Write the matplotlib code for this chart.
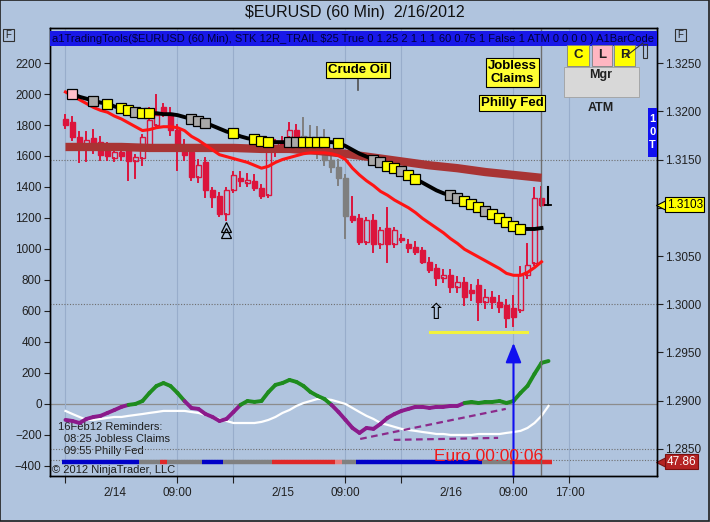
import numpy as np
import matplotlib

matplotlib.use("Agg")
import matplotlib.pyplot as plt
import matplotlib.transforms as mtransforms
from matplotlib.collections import LineCollection
from matplotlib.patches import Rectangle

plt.rcParams['font.family'] = ['Liberation Sans', 'DejaVu Sans']

# --- data: 60 min bars, x = hours since 2/14 00:00 (first bar 2/13 17:00)
bar_hours = np.arange(-7, 62)

opens = [1.3192, 1.3189, 1.3173, 1.3165, 1.3172, 1.3168, 1.3162, 1.3152, 1.3158, 1.3163,
         1.3148, 1.3152, 1.3162, 1.3186, 1.3204, 1.3198, 1.3181, 1.3160, 1.3158, 1.3132,
         1.3147, 1.3118, 1.3112, 1.3094, 1.3118, 1.3131, 1.3126, 1.3128, 1.3120, 1.3113,
         1.3162, 1.3169, 1.3173, 1.3181, 1.3174, 1.3172, 1.3165, 1.3160, 1.3150, 1.3142,
         1.3131, 1.3091, 1.3089, 1.3065, 1.3087, 1.3062, 1.3079, 1.3062, 1.3069, 1.3062,
         1.3059, 1.3056, 1.3044, 1.3038, 1.3027, 1.3030, 1.3018, 1.3023, 1.3015, 1.3020,
         1.3002, 1.3008, 1.3002, 1.2999, 1.2996, 1.2994, 1.3030, 1.3043, 1.3110]
highs = [1.3196, 1.3194, 1.3178, 1.3179, 1.3181, 1.3173, 1.3167, 1.3160, 1.3162, 1.3165,
         1.3155, 1.3175, 1.3203, 1.3217, 1.3208, 1.3203, 1.3186, 1.3170, 1.3163, 1.3150,
         1.3152, 1.3120, 1.3115, 1.3120, 1.3137, 1.3137, 1.3135, 1.3134, 1.3124, 1.3167,
         1.3170, 1.3173, 1.3188, 1.3186, 1.3193, 1.3185, 1.3184, 1.3181, 1.3160, 1.3150,
         1.3134, 1.3111, 1.3093, 1.3089, 1.3093, 1.3079, 1.3100, 1.3079, 1.3072, 1.3067,
         1.3064, 1.3058, 1.3048, 1.3041, 1.3036, 1.3036, 1.3028, 1.3027, 1.3020, 1.3025,
         1.3015, 1.3013, 1.3009, 1.3004, 1.3009, 1.3039, 1.3062, 1.3120, 1.3122]
lows = [1.3183, 1.3170, 1.3147, 1.3148, 1.3157, 1.3150, 1.3150, 1.3148, 1.3150, 1.3129,
        1.3131, 1.3144, 1.3160, 1.3183, 1.3195, 1.3175, 1.3139, 1.3150, 1.3129, 1.3127,
        1.3111, 1.3101, 1.3091, 1.3087, 1.3116, 1.3123, 1.3123, 1.3118, 1.3110, 1.3111,
        1.3154, 1.3160, 1.3170, 1.3172, 1.3165, 1.3160, 1.3152, 1.3144, 1.3137, 1.3124,
        1.3069, 1.3085, 1.3062, 1.3062, 1.3054, 1.3058, 1.3044, 1.3059, 1.3065, 1.3054,
        1.3052, 1.3043, 1.3033, 1.3020, 1.3023, 1.3013, 1.3013, 1.2999, 1.3004, 1.2984,
        1.2996, 1.2996, 1.2992, 1.2976, 1.2977, 1.2992, 1.3027, 1.3041, 1.3102]
closes = [1.3186, 1.3173, 1.3165, 1.3170, 1.3163, 1.3155, 1.3154, 1.3158, 1.3154, 1.3148,
          1.3153, 1.3173, 1.3191, 1.3196, 1.3198, 1.3181, 1.3160, 1.3155, 1.3132, 1.3144,
          1.3118, 1.3111, 1.3094, 1.3118, 1.3134, 1.3128, 1.3129, 1.3120, 1.3112, 1.3162,
          1.3169, 1.3164, 1.3181, 1.3174, 1.3172, 1.3165, 1.3160, 1.3150, 1.3142, 1.3131,
          1.3091, 1.3087, 1.3065, 1.3087, 1.3062, 1.3077, 1.3062, 1.3077, 1.3067, 1.3058,
          1.3054, 1.3044, 1.3036, 1.3027, 1.3030, 1.3018, 1.3023, 1.3007, 1.3012, 1.3002,
          1.3007, 1.3002, 1.2997, 1.2986, 1.2987, 1.3030, 1.3041, 1.3110, 1.3103]
gray_bars = [34, 35, 36, 37, 38, 39, 40]

# trailing stop line (bars 1..68) and its markers
trail = [1.3218, 1.3215, 1.3213, 1.3211, 1.3209, 1.3208, 1.3205, 1.3203, 1.3201, 1.3199,
         1.3198, 1.3198, 1.3198, 1.3197, 1.3197, 1.3196, 1.3194, 1.3192, 1.3190, 1.3188,
         1.3185, 1.3182, 1.3179, 1.3177, 1.3174, 1.3172, 1.3171, 1.3169, 1.3168, 1.3168,
         1.3168, 1.3168, 1.3168, 1.3168, 1.3168, 1.3168, 1.3168, 1.3168, 1.3167, 1.3164,
         1.3160, 1.3156, 1.3153, 1.3150, 1.3147, 1.3143, 1.3141, 1.3138, 1.3134, 1.3130,
         1.3126, 1.3122, 1.3118, 1.3115, 1.3113, 1.3110, 1.3107, 1.3104, 1.3101, 1.3097,
         1.3094, 1.3089, 1.3085, 1.3081, 1.3078, 1.3078, 1.3078, 1.3079]
mark_bars = [1, 4, 6, 8, 9, 10, 11, 12, 18, 19, 20, 24, 27, 28, 29, 32, 33, 34, 35, 36,
             37, 39, 44, 45, 46, 47, 48, 49, 50, 55, 56, 57, 58, 59, 60, 61, 62, 63, 64, 65]
mark_kind = ['p', 'g', 'y', 'y', 'y', 'g', 'y', 'y', 'g', 'g', 'g', 'y', 'y', 'y', 'y', 'g', 'g', 'y', 'y', 'y',
             'y', 'y', 'g', 'g', 'y', 'y', 'g', 'y', 'y', 'g', 'g', 'y', 'y', 'y', 'g', 'y', 'y', 'y', 'y', 'y']

fast_ma = [1.3220, 1.3216, 1.3212, 1.3208, 1.3204, 1.3201, 1.3199, 1.3195, 1.3192, 1.3188,
           1.3184, 1.3180, 1.3181, 1.3183, 1.3184, 1.3184, 1.3183, 1.3180, 1.3174, 1.3170,
           1.3165, 1.3160, 1.3155, 1.3153, 1.3151, 1.3149, 1.3147, 1.3144, 1.3141, 1.3143,
           1.3147, 1.3150, 1.3152, 1.3154, 1.3156, 1.3157, 1.3157, 1.3157, 1.3156, 1.3154,
           1.3150, 1.3141, 1.3134, 1.3128, 1.3123, 1.3117, 1.3113, 1.3108, 1.3104, 1.3100,
           1.3095, 1.3089, 1.3084, 1.3079, 1.3074, 1.3068, 1.3063, 1.3057, 1.3053, 1.3049,
           1.3045, 1.3041, 1.3037, 1.3032, 1.3030, 1.3030, 1.3033, 1.3038, 1.3044]

slow_ma_bars = [0, 4, 8, 12, 16, 20, 24, 28, 32, 36, 40, 44, 48, 52, 56, 60, 64, 68]
slow_ma = [1.3163, 1.3163, 1.3163, 1.3162, 1.3162, 1.3162, 1.3162, 1.3161, 1.3161,
           1.3159, 1.3156, 1.3152, 1.3148, 1.3144, 1.3141, 1.3137, 1.3134, 1.3131]

# oscillator panel (left axis), bars 0..69
osc_hours = np.arange(-7, 63)
osc = [-103, -110, -123, -97, -84, -77, -58, -39, -19, -6,
       0, 19, 71, 116, 135, 116, 71, 19, -26, -32,
       -65, -84, -110, -97, -52, -6, 19, 13, 19, 77,
       123, 135, 155, 142, 116, 77, 52, 32, -6, -52,
       -103, -155, -187, -155, -161, -129, -90, -65, -45, -32,
       -19, -19, -26, -19, -19, -13, -13, 6, 13, 6,
       13, 13, 19, 6, 19, 71, 116, 194, 265, 277]
osc_signal = [-45, -65, -84, -103, -103, -97, -90, -84, -84, -77,
              -71, -65, -58, -52, -45, -45, -45, -45, -52, -58,
              -71, -84, -97, -110, -123, -123, -123, -123, -116, -103,
              -84, -58, -39, -13, 6, 19, 32, 32, 26, 13,
              0, -26, -52, -77, -97, -123, -135, -148, -161, -168,
              -174, -181, -187, -194, -194, -200, -200, -200, -200, -194,
              -194, -194, -194, -187, -181, -174, -155, -123, -77, -13]
trend_upper = ([35.1, 55.9], [-226, -32])
trend_lower = ([39.9, 54.8], [-232, -219])

strip_runs = [('b', 11), ('g', 3), ('r', 1), ('g', 5), ('b', 3), ('g', 7), ('r', 9),
              ('s', 1), ('g', 2), ('b', 18), ('g', 4), ('r', 6)]
strip_level = -372
strip_value = 47.86

last_price = 1.3103
support_price = 1.2971
support_hours = (45.1, 58.9)
event_hours = {'crude': 34.8, 'jobless': 56.8}
now_hour = 61

BG = '#B0C4DE'
CRIMSON = '#DC143C'
W, H = 710, 522

fig = plt.figure(figsize=(W / 100, H / 100), dpi=100)
fig.patch.set_facecolor(BG)
ax = fig.add_axes([50 / W, 46 / H, 607 / W, 448 / H])
ax2 = ax.twinx()
ax.set_facecolor(BG)
ax2.patch.set_visible(False)

ax.set_xlim(-9.21, 77.5)
ax.set_ylim(-465, 2426)
ax2.set_ylim(1.28220, 1.32863)

# --- grid / reference lines
ax.set_xticks([-7, 9, 17, 33, 41, 57, 65])
ax.set_xticklabels(['', '09:00', '', '09:00', '', '09:00', '17:00'])
ax.set_xticks([0, 24, 48], minor=True)
ax.set_xticklabels(['2/14', '2/15', '2/16'], minor=True)
ax.grid(axis='x', which='major', color='#98ADCB', lw=0.8)
ax.axhline(0, color='#8C8C8C', lw=0.9, zorder=1)
for lvl in (1.3150, 1.3000, 1.2850):
    ax2.axhline(lvl, color='#6E6E6E', lw=0.8, ls=(0, (1, 1.5)), zorder=1)
ax.axhline(-360, color='#6E6E6E', lw=0.8, ls=(0, (1, 1.5)), zorder=1)

# --- oscillator
pts = np.column_stack([osc_hours, osc])
segs = np.stack([pts[:-1], pts[1:]], axis=1)
seg_cols = ['#1E8C1E' if (a >= -10 and b >= -10) else '#8B1A8B' for a, b in zip(osc[:-1], osc[1:])]
ax.add_collection(LineCollection(segs, colors=seg_cols, linewidths=2.8, capstyle='round', zorder=4))
ax.plot(osc_hours, osc_signal, color='white', lw=1.6, zorder=3)
for xs, ys in (trend_upper, trend_lower):
    ax.plot(xs, ys, color='#8B2A8B', lw=1.6, ls=(0, (3, 2)), zorder=3)

strip_map = {'b': '#0000C8', 'g': '#808080', 'r': '#E02828', 's': '#E88080'}
k = 0
for code, n in strip_runs:
    for _ in range(n):
        hh = osc_hours[k]
        ax.plot([hh - 0.5, hh + 0.5], [strip_level, strip_level], color=strip_map[code],
                lw=3.2, solid_capstyle='butt', zorder=3)
        k += 1

# --- price bars
for i, hh in enumerate(bar_hours):
    o, hi, lo, c = opens[i], highs[i], lows[i], closes[i]
    top, bot = max(o, c), min(o, c)
    if i in gray_bars:
        col, fc = '#7F7F7F', '#7F7F7F'
    elif c >= o:
        col, fc = CRIMSON, 'none'
    else:
        col, fc = CRIMSON, CRIMSON
    ax2.plot([hh, hh], [top, hi], color=col, lw=1.4, zorder=2)
    ax2.plot([hh, hh], [lo, bot], color=col, lw=1.4, zorder=2)
    ax2.add_patch(Rectangle((hh - 0.39, bot), 0.78, max(top - bot, 0.00006),
                            fc=fc, ec=col, lw=1.0, zorder=2))

ax2.plot(bar_hours[np.array(slow_ma_bars)], slow_ma, color='#A83434', lw=6, solid_capstyle='butt', zorder=3)
ax2.plot(bar_hours, fast_ma, color='#FF1414', lw=2.2, zorder=3.5)
ax2.plot(bar_hours[1:], trail, color='black', lw=2.8, zorder=4)
kind_col = {'p': '#FFC0CB', 'g': '#A9A9A9', 'y': '#FFFF00'}
for b, kd in zip(mark_bars, mark_kind):
    ax2.plot(bar_hours[b], trail[b - 1], marker='s', ms=7, mfc=kind_col[kd], mec='black', mew=0.9, zorder=5)

# current bar marker and tick
ax2.axvline(now_hour, color='#6E6E6E', lw=1, zorder=2)
ax2.plot([now_hour + 1, now_hour + 1], [highs[-1], last_price], color='black', lw=1.5, zorder=5)
ax2.plot([now_hour + 0.5, now_hour + 1.4], [last_price, last_price], color='black', lw=1.3, zorder=5)

# support line and signal arrows
ax2.plot(support_hours, [support_price, support_price], color='#F2F23C', lw=2.2, zorder=3)
ax2.plot([15.9], [1.3080], marker='^', ms=7, mfc='none', mec='black', mew=0.9, zorder=5)
ax2.plot([15.9], [1.3074], marker='^', ms=7, mfc='none', mec='black', mew=0.9, zorder=5)
ax2.text(45.8, 1.2991, '\u21e7', fontsize=16, ha='center', va='center', family=['DejaVu Sans'], zorder=5)
ax.annotate('', xy=(57, 394), xytext=(57, -470),
            arrowprops=dict(arrowstyle='-|>,head_width=0.4,head_length=1.0', color='#1010F0',
                            lw=1.5, mutation_scale=12, shrinkA=0, shrinkB=0), zorder=6)

# event labels
box = dict(boxstyle='square,pad=0.15', fc='#FFFF33', ec='black', lw=0.8)
ax2.text(event_hours['crude'], 1.3243, 'Crude Oil', ha='center', va='center', fontsize=9.5,
         fontweight='bold', bbox=box, zorder=6)
ax2.plot([event_hours['crude']] * 2, [1.3233, 1.3222], color='#505050', lw=1.2, zorder=5)
ax2.text(event_hours['jobless'], 1.3240, 'Jobless\nClaims', ha='center', va='center', fontsize=9.5,
         fontweight='bold', linespacing=1.05, bbox=box, zorder=6)
ax2.text(event_hours['jobless'], 1.3209, 'Philly Fed', ha='center', va='center', fontsize=9.5,
         fontweight='bold', bbox=box, zorder=6)
ax2.text(53.5, 1.2842, 'Euro 00:00:06', ha='center', va='center', fontsize=12.5, color='#F01818', zorder=5)

# banner
ax2.add_patch(Rectangle((0, 430 / 448), 1, 15 / 448, transform=ax2.transAxes, fc='#1818E8',
                        ec='none', zorder=7))
ax2.text(0.004, 437.5 / 448, r'a1TradingTools(\$EURUSD (60 Min), STK 12R_TRAIL \$25 True 0 1.25 2 1 1 1 60 0.75 1 '
         'False 1 ATM 0 0 0 0 ) A1BarCode', transform=ax2.transAxes, fontsize=8, color='#00003A',
         va='center', ha='left', zorder=8, clip_on=True)

# reminders / copyright
ax.text(0.013, 0.109, '16Feb12 Reminders:', transform=ax.transAxes, fontsize=8, color='#1E1E1E', va='center')
ax.text(0.023, 0.083, '08:25 Jobless Claims', transform=ax.transAxes, fontsize=8, color='#1E1E1E', va='center')
ax.text(0.023, 0.056, '09:55 Philly Fed', transform=ax.transAxes, fontsize=8, color='#1E1E1E', va='center')
ax.text(0.004, 0.014, '\u00a9 2012 NinjaTrader, LLC', transform=ax.transAxes, fontsize=8, color='#1E1E1E',
        va='center')

# --- axes styling
for a in (ax, ax2):
    for sp in a.spines.values():
        sp.set_color('black')
        sp.set_linewidth(1)
ax.set_yticks(np.arange(-400, 2201, 200))
ax.tick_params(axis='y', direction='out', length=4, width=0.8, labelsize=8.5, colors='#202020', pad=2)
ax.tick_params(axis='x', which='major', direction='out', length=5, width=0.8, labelsize=8.5,
               colors='#202020', pad=3)
ax.tick_params(axis='x', which='minor', length=0, labelsize=8.5, colors='#202020', pad=8)
price_ticks = np.arange(1.2850, 1.32501, 0.005)
ax2.set_yticks(price_ticks)
# the 1.3100 label sits under the last-price tag
ax2.set_yticklabels(['' if abs(v - 1.31) < 1e-6 else f"{v:.4f}" for v in price_ticks])
ax2.tick_params(axis='y', direction='out', length=4, width=0.8, labelsize=8.5, colors='#202020', pad=2)

# price tags on the right axis
tr2 = mtransforms.blended_transform_factory(ax2.transAxes, ax2.transData)
ax2.plot([1.009], [last_price], marker='<', ms=8, mfc='#FFFF00', mec='black', mew=0.8,
         transform=tr2, clip_on=False, zorder=9)
ax2.text(1.016, last_price, f"{last_price:.4f}", transform=tr2, fontsize=8.5, va='center', ha='left',
         bbox=dict(boxstyle='square,pad=0.12', fc='#FFFF00', ec='black', lw=0.8), clip_on=False, zorder=9)
tr1 = mtransforms.blended_transform_factory(ax.transAxes, ax.transData)
ax.plot([1.009], [strip_level], marker='<', ms=9, mfc='#B42222', mec='#7A1010', mew=0.8,
        transform=tr1, clip_on=False, zorder=9)
ax.text(1.016, strip_level, f"{strip_value:.2f}", transform=tr1, fontsize=8.5, va='center', ha='left',
        color='white', bbox=dict(boxstyle='square,pad=0.15', fc='#B42222', ec='#7A1010', lw=0.8),
        clip_on=False, zorder=9)

# --- window chrome
def px_rect(x0, y0, x1, y1, **kw):
    fig.add_artist(Rectangle((x0 / W, 1 - y1 / H), (x1 - x0) / W, (y1 - y0) / H,
                             transform=fig.transFigure, **kw))


def px_text(x, y, s, **kw):
    fig.text(x / W, 1 - y / H, s, **kw)


px_rect(0, 0, W - 1, H - 1, fill=False, ec='#202020', lw=1.2)
px_text(355, 13, '$EURUSD (60 Min)  2/16/2012', ha='center', va='center', fontsize=11.5, color='#101010')
for fx in (8, 680):
    px_rect(fx - 5, 29, fx + 6, 41, fc=BG, ec='#303030', lw=0.8)
    px_text(fx + 0.5, 35, 'F', ha='center', va='center', fontsize=7, color='#202020')
px_rect(567, 45, 589, 66, fc='#FFFF00', ec='#808080', lw=0.6, zorder=10)
px_rect(592, 45, 612, 66, fc='#FFB6C1', ec='#808080', lw=0.6, zorder=10)
px_rect(614, 45, 635, 66, fc='#FFFF00', ec='#808080', lw=0.6, zorder=10)
for bx, lab in ((578, 'C'), (602, 'L'), (624.5, 'R')):
    px_text(bx, 55, lab, ha='center', va='center', fontsize=9.5, fontweight='bold', color='#202020', zorder=11)
px_rect(643, 44, 647, 58, fill=False, ec='#303030', lw=0.8, zorder=11)
fig.add_artist(plt.Line2D([625 / W, 643 / W], [1 - 57 / H, 1 - 43 / H], color='#303030', lw=0.8, zorder=11))
px_rect(564, 67, 639, 97, fc='#D8D8D8', ec='#A0A0A0', lw=0.6, zorder=10)
px_text(601, 75, 'Mgr', ha='center', va='center', fontsize=9, fontweight='bold', color='#202020', zorder=11)
px_text(601, 108, 'ATM', ha='center', va='center', fontsize=9, fontweight='bold', color='#202020', zorder=11)
px_rect(648, 108, 657, 157, fc='#1010F0', ec='none', zorder=10)
for ty, ch in ((119, '1'), (132, '0'), (145, 'T')):
    px_text(652.5, ty, ch, ha='center', va='center', fontsize=8, fontweight='bold', color='white', zorder=11)

fig.savefig('out.png', dpi=100, facecolor=fig.get_facecolor())
